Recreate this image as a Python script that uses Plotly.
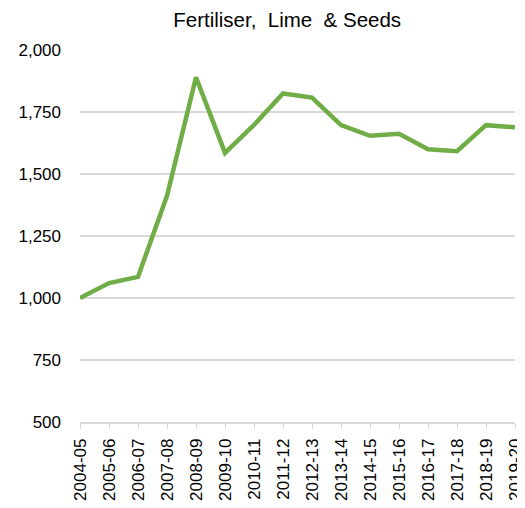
import plotly.graph_objects as go

years = ["2004-05", "2005-06", "2006-07", "2007-08", "2008-09", "2009-10",
         "2010-11", "2011-12", "2012-13", "2013-14", "2014-15", "2015-16",
         "2016-17", "2017-18", "2018-19", "2019-20"]
values = [1000, 1060, 1085, 1412, 1890, 1585, 1698, 1825, 1808, 1697,
          1654, 1662, 1600, 1592, 1697, 1688]
y_ticks = [500, 750, 1000, 1250, 1500, 1750, 2000]

fig = go.Figure(go.Scatter(x=years, y=values, mode="lines",
                           line=dict(color="#70AD47", width=4.5)))

# page has an 8px body margin, so the figure is sized to the visible area
fig.update_layout(
    width=517, height=500,
    margin=dict(l=72, r=10, t=42, b=86),
    plot_bgcolor="white", paper_bgcolor="white",
    font=dict(family="Liberation Sans, Arial", size=17, color="#000000"),
    title=dict(text="Fertiliser,  Lime  & Seeds", x=0.54, xanchor="center",
               y=0.976, yanchor="middle", font=dict(size=20.5)),
    showlegend=False,
)
fig.update_xaxes(type="category", range=[0, 15], tickangle=-90,
                 showline=True, linecolor="#D9D9D9", linewidth=1.5,
                 ticks="outside", ticklen=5, tickcolor="#D9D9D9",
                 showgrid=False, automargin=False, ticklabelstandoff=3,
                 tickfont=dict(size=17))
fig.update_yaxes(range=[500, 2000], tickvals=y_ticks, tickformat=",",
                 showgrid=True, gridcolor="#D9D9D9", gridwidth=1.5,
                 zeroline=False, automargin=False, ticklabelstandoff=18,
                 tickfont=dict(size=17))

fig.write_html("out.html")
